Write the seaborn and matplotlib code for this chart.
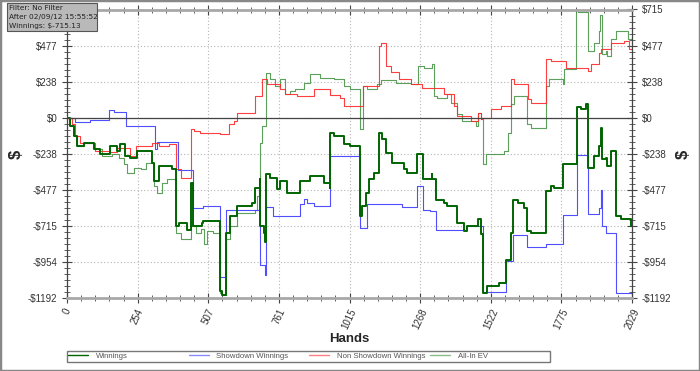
import pandas as pd
import seaborn as sns
import matplotlib.pyplot as plt
from matplotlib.patches import Rectangle
from matplotlib.ticker import FixedLocator, MultipleLocator

# Values (hand number where a step starts, $ value)
showdown_hands = [0, 30, 83, 152, 167, 212, 317, 323, 397, 454, 488, 548, 572, 694, 712, 716,
                  740, 836, 850, 862, 886, 944, 1051, 1078, 1204, 1258, 1277, 1303, 1324,
                  1432, 1495, 1575, 1602, 1651, 1721, 1783, 1831, 1872, 1911, 1917, 1923,
                  1935, 1971, 2029]
showdown_vals = [0, -31, -18, 48, 35, -53, -207, -163, -344, -598, -583, -1053, -613, -973, -1040, -592,
                 -647, -569, -538, -561, -585, -250, -730, -569, -590, -450, -613, -618, -745,
                 -717, -1154, -945, -775, -856, -834, -646, -245, -640, -596, -481, -719,
                 -761, -1160, -1160]

nonsd_hands = [0, 18, 30, 48, 90, 102, 150, 180, 228, 246, 306, 330, 366, 390, 408, 444, 456,
               478, 550, 580, 598, 610, 674, 700, 718, 766, 784, 826, 886, 946, 982, 994,
               1064, 1120, 1126, 1144, 1162, 1192, 1234, 1276, 1354, 1390, 1402, 1450, 1476,
               1486, 1492, 1522, 1558, 1596, 1606, 1654, 1666, 1721, 1738, 1792, 1870, 1882,
               1911, 1917, 1953, 2001, 2019, 2029]
nonsd_vals = [0, -40, -121, -165, -170, -220, -230, -200, -254, -187, -165, -187, -177, -342, -397, -77, -88,
              -99, -110, -44, -22, 33, 143, 254, 221, 188, 154, 145, 190, 150, 132, 77,
              210, 474, 497, 342, 300, 254, 221, 199, 154, 77, 11, -22, 33,
              -11, 0, 55, 77, 254, 221, 121, 99, 386, 375, 331, 309, 353,
              430, 452, 497, 508, 452, 440]

win_hands = [0, 12, 24, 36, 60, 96, 120, 156, 180, 192, 210, 228, 252, 306, 312, 330, 378, 393,
             402, 432, 444, 447, 452, 486, 490, 548, 556, 572, 586, 610, 664, 674, 692, 694,
             706, 712, 716, 730, 754, 766, 790, 838, 874, 922, 944, 946, 958, 994, 1018,
             1051, 1060, 1072, 1084, 1102, 1120, 1132, 1144, 1168, 1210, 1222, 1258, 1277,
             1309, 1312, 1324, 1354, 1366, 1402, 1426, 1438, 1476, 1486, 1495, 1510, 1552,
             1575, 1594, 1602, 1618, 1642, 1651, 1666, 1721, 1738, 1750, 1783, 1831, 1846,
             1864, 1872, 1894, 1911, 1917, 1923, 1935, 1941, 1953, 1971, 1989, 2025, 2029]
win_vals = [0, -55, -121, -187, -165, -210, -243, -187, -221, -177, -254, -265, -221, -298, -419, -320, -342, -717,
            -695, -740, -673, -430, -717, -695, -684, -1148, -1170, -761, -651, -585, -563, -463, -408, -719,
            -760, -819, -375, -400, -474, -419, -496, -419, -386, -430, -463, -99, -121, -177, -188,
            -651, -585, -496, -408, -364, -99, -143, -232, -298, -342, -364, -243, -408,
            -370, -408, -541, -563, -585, -695, -750, -717, -673, -772, -1159, -1115, -1093,
            -938, -761, -541, -563, -596, -750, -761, -486, -452, -463, -309, 73, 60,
            88, -331, -254, -188, -66, -276, -265, -320, -221, -651, -673, -713, -715]

ev_hands = [0, 12, 24, 36, 60, 96, 126, 162, 186, 204, 216, 240, 264, 282, 312, 324, 342, 360,
            393, 408, 444, 462, 480, 492, 504, 526, 548, 556, 572, 586, 610, 676, 682, 694,
            700, 714, 730, 748, 766, 784, 802, 820, 850, 874, 910, 958, 994, 1018, 1054,
            1064, 1078, 1114, 1126, 1180, 1234, 1260, 1282, 1312, 1318, 1330, 1366, 1378,
            1402, 1420, 1468, 1476, 1486, 1495, 1504, 1570, 1582, 1596, 1606, 1651, 1666,
            1721, 1732, 1780, 1786, 1828, 1834, 1872, 1894, 1911, 1915, 1920, 1935, 1941,
            1953, 1971, 2013, 2029]
ev_vals = [0, -55, -121, -187, -165, -210, -254, -243, -265, -309, -364, -330, -342, -298, -452, -496, -430, -408,
           -761, -805, -717, -761, -739, -838, -750, -761, -1159, -1170, -805, -717, -629, -607, -519, -166,
           -55, 294, 254, 210, 254, 154, 177, 188, 232, 287, 265, 254, 210, 188, -77,
           210, 188, 221, 250, 230, 221, 342, 331, 353, 143, 132, 154, 99,
           22, -22, -55, 33, -11, -309, -243, -221, -99, 88, 143, -44, -66,
           210, 254, 221, 320, 706, 700, 441, 497, 574, 677, 419, 441, 408,
           519, 574, 519, 497]

series = [
    ("Winnings", win_hands, win_vals, "#006400", 1.4, 1.0),
    ("Showdown Winnings", showdown_hands, showdown_vals, "#3c3cff", 0.8, 0.9),
    ("Non Showdown Winnings", nonsd_hands, nonsd_vals, "#ff2a2a", 0.8, 0.9),
    ("All-In EV", ev_hands, ev_vals, "#3f8f3f", 0.8, 0.85),
]

sns.set_style("white")
plt.rcParams['font.family'] = ['Liberation Sans', 'DejaVu Sans']

fig = plt.figure(figsize=(7, 3.71), dpi=100)
ax = fig.add_axes([67 / 700, 1 - 298 / 371, 565 / 700, 288.5 / 371])

handles = []
# draw order: EV underneath, then others, winnings on top
for name, hx, hy, col, lw, al in [series[3], series[1], series[2], series[0]]:
    df = pd.DataFrame({"hand": hx, "value": hy})
    sns.lineplot(data=df, x="hand", y="value", ax=ax, color=col, linewidth=lw,
                 alpha=al, drawstyle="steps-post", estimator=None, sort=False)
for name, hx, hy, col, lw, al in series:
    h, = ax.plot([], [], color=col, linewidth=1.0, alpha=0.6 if name != "Winnings" else 1.0)
    handles.append((h, name))

ax.axhline(0, color="#444444", linewidth=0.9)

ymax = 715.2
ymin = -1192.0
xmax = 2029
ax.set_xlim(0, xmax)
ax.set_ylim(ymin, ymax)

yt = [k * 238.4 for k in range(-5, 4)]
ax.yaxis.set_major_locator(FixedLocator(yt))
ax.yaxis.set_minor_locator(MultipleLocator(238.4 / 6))
ax.set_yticklabels([("-$%d" % round(-v)) if v < -0.5 else "$%d" % round(v) for v in yt])
xt = [k * xmax / 8 for k in range(9)]
ax.xaxis.set_major_locator(FixedLocator(xt))
ax.xaxis.set_minor_locator(MultipleLocator(xmax / 40))
ax.set_xticklabels(["%d" % round(v + 0.01) for v in xt], rotation=65, ha="center", va="top")

ax.grid(True, which="major", color="#b5b5b5", linestyle=(0, (1, 2)), linewidth=0.8)
ax.tick_params(which="both", direction="inout", top=True, right=True, left=True, bottom=True,
               labelright=True, labelsize=7, labelcolor="#333333", color="#444444")
ax.tick_params(which="major", length=7, width=0.8)
ax.tick_params(which="minor", length=4, width=0.6)
ax.tick_params(axis="x", pad=3)
# the info box hides the top label on the left side
ax.yaxis.get_major_ticks()[-1].label1.set_visible(False)

for s in ["left", "right"]:
    ax.spines[s].set_color("#444444")
    ax.spines[s].set_linewidth(0.9)
for s in ["top", "bottom"]:
    ax.spines[s].set_color("#a8a8a8")
    ax.spines[s].set_linewidth(2)

ax.set_xlabel("Hands", fontsize=9.5, fontweight="bold")
ax.xaxis.set_label_coords(0.5, -35 / 288.5)
ax.set_ylabel("")
for px in (16, 683):
    fig.text(px / 700, 1 - 154 / 371, "$", fontsize=12, fontweight="bold", rotation=90,
             ha="center", va="center")

# info box
fig.add_artist(Rectangle((7 / 700, 1 - 31 / 371), 90 / 700, 28 / 371, transform=fig.transFigure,
                         facecolor="#b9b9b9", edgecolor="#555555", linewidth=0.8, zorder=5))
for i, t in enumerate(["Filter: No Filter", "After 02/09/12 15:55:52", "Winnings: $-715.13"]):
    fig.text(9 / 700, 1 - (8 + 9 * i) / 371, t, fontsize=5.3, color="#222222",
             family="DejaVu Sans", va="center", ha="left", zorder=6)

# legend
fig.add_artist(Rectangle((67 / 700, 1 - 361.5 / 371), 483 / 700, 11 / 371, transform=fig.transFigure,
                         facecolor="none", edgecolor="#777777", linewidth=1))
for i, (h, name) in enumerate(handles):
    fig.legend(handles=[h], labels=[name], loc="center left",
               bbox_to_anchor=((68 + 120.5 * i) / 700, 1 - 356 / 371), frameon=False,
               fontsize=5.6, handlelength=2.6, handletextpad=1.0, borderpad=0, borderaxespad=0,
               labelcolor="#555555")

fig.add_artist(Rectangle((0, 0), 1, 1, transform=fig.transFigure, facecolor="none",
                         edgecolor="#888888", linewidth=2.5))

fig.savefig("out.png", dpi=100)
